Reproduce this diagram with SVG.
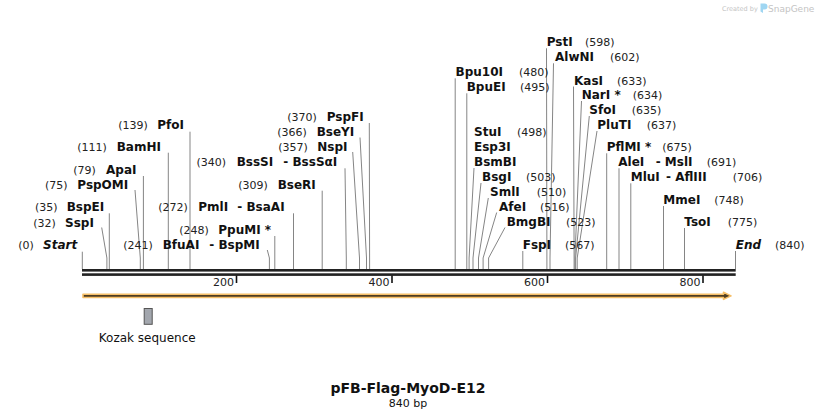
<svg xmlns="http://www.w3.org/2000/svg" width="818" height="419" viewBox="0 0 818 419">
<style>
text{font-family:"DejaVu Sans","Verdana",sans-serif;fill:#111}
.n{font-size:12px;font-weight:bold}
.i{font-size:12px;font-weight:bold;font-style:italic}
.p{font-size:11px;fill:#222}
.t{font-size:11px;fill:#222}
.ln{fill:none;stroke:#858585;stroke-width:1}
.tk{stroke:#111;stroke-width:1.6}
.wm{fill:#c4c4c4}
</style>
<rect width="818" height="419" fill="#fff"/>
<g id="watermark">
<text class="wm" x="722" y="11" style="font-size:6.5px">Created by</text>
<path d="M760.5 3.5 h4 a3 3 0 0 1 0 6 h-1.5 v3.5 l-2.5 -1.5 z" fill="#9fd6f2"/>
<text class="wm" x="768" y="11.5" style="font-size:9px">SnapGene</text>
</g>
<g id="connectors">
<polyline class="ln" points="82.3,251.7 82.3,269"/>
<polyline class="ln" points="101.7,227.5 106.9,258 106.9,269"/>
<polyline class="ln" points="109.3,213.3 109.3,269"/>
<polyline class="ln" points="135,190 140.3,258 140.3,269"/>
<polyline class="ln" points="143.4,176 143.4,269"/>
<polyline class="ln" points="168.3,152.7 168.3,269"/>
<polyline class="ln" points="190,131.7 190,269"/>
<polyline class="ln" points="267.3,250 269.4,258 269.4,269"/>
<polyline class="ln" points="274.8,236 274.8,269"/>
<polyline class="ln" points="293.5,213.3 293.5,269"/>
<polyline class="ln" points="322.2,190.7 322.2,269"/>
<polyline class="ln" points="345,168.3 346.3,258 346.3,269"/>
<polyline class="ln" points="352.7,152 359.5,258 359.5,269"/>
<polyline class="ln" points="360,137.5 366.5,258 366.5,269"/>
<polyline class="ln" points="369.3,123 369.6,258 369.6,269"/>
<polyline class="ln" points="455.2,78.3 455.2,269"/>
<polyline class="ln" points="466.8,93.3 466.8,269"/>
<polyline class="ln" points="474,168 469.1,258 469.1,269"/>
<polyline class="ln" points="481,183 473,258 473,269"/>
<polyline class="ln" points="488.3,198 478.5,258 478.5,269"/>
<polyline class="ln" points="496.7,212.5 483.1,258 483.1,269"/>
<polyline class="ln" points="505,227.5 488.6,258 488.6,269"/>
<polyline class="ln" points="522.8,251 522.8,269"/>
<polyline class="ln" points="546.5,48.3 546.9,258 546.9,269"/>
<polyline class="ln" points="553.5,63.3 550,258 550,269"/>
<polyline class="ln" points="573.5,86.5 574.1,258 574.1,269"/>
<polyline class="ln" points="581.5,101 574.9,258 574.9,269"/>
<polyline class="ln" points="589.3,116 575.6,258 575.6,269"/>
<polyline class="ln" points="597,131 577.2,258 577.2,269"/>
<polyline class="ln" points="606.7,153.3 606.7,269"/>
<polyline class="ln" points="619,168.3 619,269"/>
<polyline class="ln" points="630.8,183.3 630.8,269"/>
<polyline class="ln" points="663.5,206 663.5,269"/>
<polyline class="ln" points="684.5,228 684.5,269"/>
<polyline class="ln" points="735.5,251 735.5,269"/>
</g>
<g id="backbone">
<rect x="82" y="269" width="653.7" height="2.6" fill="#222"/>
<rect x="82" y="273.3" width="653.7" height="2.6" fill="#222"/>
<line class="tk" x1="236.5" y1="275.5" x2="236.5" y2="283"/>
<line class="tk" x1="392" y1="275.5" x2="392" y2="283"/>
<line class="tk" x1="547.5" y1="275.5" x2="547.5" y2="283"/>
<line class="tk" x1="703" y1="275.5" x2="703" y2="283"/>
<text class="t" x="234" y="285.5" text-anchor="end">200</text>
<text class="t" x="389.5" y="285.5" text-anchor="end">400</text>
<text class="t" x="545" y="285.5" text-anchor="end">600</text>
<text class="t" x="700.5" y="285.5" text-anchor="end">800</text>
</g>
<g id="feature">
<path d="M83 294.2 H723.5 V292.3 L731 295.85 L723.5 299.4 V297.5 H83 Z" fill="#4e3d22" stroke="#f6bf68" stroke-width="1.6" stroke-linejoin="round"/>
</g>
<g id="kozak">
<rect x="144.2" y="308.5" width="8" height="15.8" fill="#a3a7ae" stroke="#555" stroke-width="1"/>
<text x="147.2" y="341.7" text-anchor="middle" style="font-size:12px">Kozak sequence</text>
</g>
<g id="title">
<text x="408" y="393.3" text-anchor="middle" style="font-size:14px;font-weight:bold">pFB-Flag-MyoD-E12</text>
<text x="408" y="406.5" text-anchor="middle" style="font-size:11px">840 bp</text>
</g>
<g id="start"><text class="p" x="18.3" y="249.3">(0)</text><text class="i" x="43" y="249.3">Start</text></g>
<g id="SspI"><text class="p" x="33.3" y="226.5">(32)</text><text class="n" x="65" y="226.5">SspI</text></g>
<g id="BspEI"><text class="p" x="35" y="211.3">(35)</text><text class="n" x="66.7" y="211.3">BspEI</text></g>
<g id="PspOMI"><text class="p" x="45" y="188.7">(75)</text><text class="n" x="77.3" y="188.7">PspOMI</text></g>
<g id="ApaI"><text class="p" x="73.3" y="173.7">(79)</text><text class="n" x="106" y="173.7">ApaI</text></g>
<g id="BamHI"><text class="p" x="77.3" y="151">(111)</text><text class="n" x="116.7" y="151">BamHI</text></g>
<g id="PfoI"><text class="p" x="118.3" y="129.3">(139)</text><text class="n" x="157.3" y="129.3">PfoI</text></g>
<g id="BfuAI"><text class="p" x="123.3" y="249">(241)</text><text class="n" x="162.7" y="249">BfuAI</text><text class="n" x="209.3" y="249">- BspMI</text></g>
<g id="PpuMI"><text class="p" x="179.3" y="233.7">(248)</text><text class="n" x="218.3" y="233.7">PpuMI *</text></g>
<g id="PmlI"><text class="p" x="158.3" y="211.3">(272)</text><text class="n" x="198.3" y="211.3">PmlI</text><text class="n" x="237.3" y="211.3">- BsaAI</text></g>
<g id="BseRI"><text class="p" x="238.3" y="188.7">(309)</text><text class="n" x="277.7" y="188.7">BseRI</text></g>
<g id="BssSI"><text class="p" x="196.5" y="166">(340)</text><text class="n" x="236.7" y="166">BssSI</text><text class="n" x="283.3" y="166">- BssSαI</text></g>
<g id="NspI"><text class="p" x="278.3" y="151">(357)</text><text class="n" x="317.3" y="151">NspI</text></g>
<g id="BseYI"><text class="p" x="277.3" y="136">(366)</text><text class="n" x="316.7" y="136">BseYI</text></g>
<g id="PspFI"><text class="p" x="287.3" y="121.3">(370)</text><text class="n" x="326.7" y="121.3">PspFI</text></g>
<g id="Bpu10I"><text class="n" x="455.5" y="76">Bpu10I</text><text class="p" x="519" y="76">(480)</text></g>
<g id="BpuEI"><text class="n" x="466.7" y="91">BpuEI</text><text class="p" x="520" y="91">(495)</text></g>
<g id="StuI"><text class="n" x="474" y="136">StuI</text><text class="p" x="517" y="136">(498)</text><text class="n" x="474" y="151">Esp3I</text><text class="n" x="474" y="166">BsmBI</text></g>
<g id="BsgI"><text class="n" x="482" y="181">BsgI</text><text class="p" x="526" y="181">(503)</text></g>
<g id="SmlI"><text class="n" x="490" y="196">SmlI</text><text class="p" x="536.7" y="196">(510)</text></g>
<g id="AfeI"><text class="n" x="499" y="210.5">AfeI</text><text class="p" x="540" y="210.5">(516)</text></g>
<g id="BmgBI"><text class="n" x="506.7" y="226">BmgBI</text><text class="p" x="566" y="226">(523)</text></g>
<g id="FspI"><text class="n" x="522.7" y="249">FspI</text><text class="p" x="565" y="249">(567)</text></g>
<g id="PstI"><text class="n" x="546.7" y="46">PstI</text><text class="p" x="585" y="46">(598)</text></g>
<g id="AlwNI"><text class="n" x="555" y="61">AlwNI</text><text class="p" x="610" y="61">(602)</text></g>
<g id="KasI"><text class="n" x="574" y="84.5">KasI</text><text class="p" x="617" y="84.5">(633)</text></g>
<g id="NarI"><text class="n" x="581.7" y="99.3">NarI *</text><text class="p" x="632.7" y="99.3">(634)</text></g>
<g id="SfoI"><text class="n" x="589.3" y="114.3">SfoI</text><text class="p" x="631.7" y="114.3">(635)</text></g>
<g id="PluTI"><text class="n" x="597.3" y="129.3">PluTI</text><text class="p" x="646.7" y="129.3">(637)</text></g>
<g id="PflMI"><text class="n" x="606.7" y="151">PflMI *</text><text class="p" x="662.3" y="151">(675)</text></g>
<g id="AleI"><text class="n" x="618.3" y="166">AleI</text><text class="n" x="655.7" y="166">- MslI</text><text class="p" x="706.7" y="166">(691)</text></g>
<g id="MluI"><text class="n" x="630.7" y="181">MluI</text><text class="n" x="666" y="181">- AflIII</text><text class="p" x="732.7" y="181">(706)</text></g>
<g id="MmeI"><text class="n" x="663.3" y="204.3">MmeI</text><text class="p" x="714.3" y="204.3">(748)</text></g>
<g id="TsoI"><text class="n" x="684.3" y="226">TsoI</text><text class="p" x="727.7" y="226">(775)</text></g>
<g id="end"><text class="i" x="735.7" y="249.3">End</text><text class="p" x="775" y="249.3">(840)</text></g>
</svg>
